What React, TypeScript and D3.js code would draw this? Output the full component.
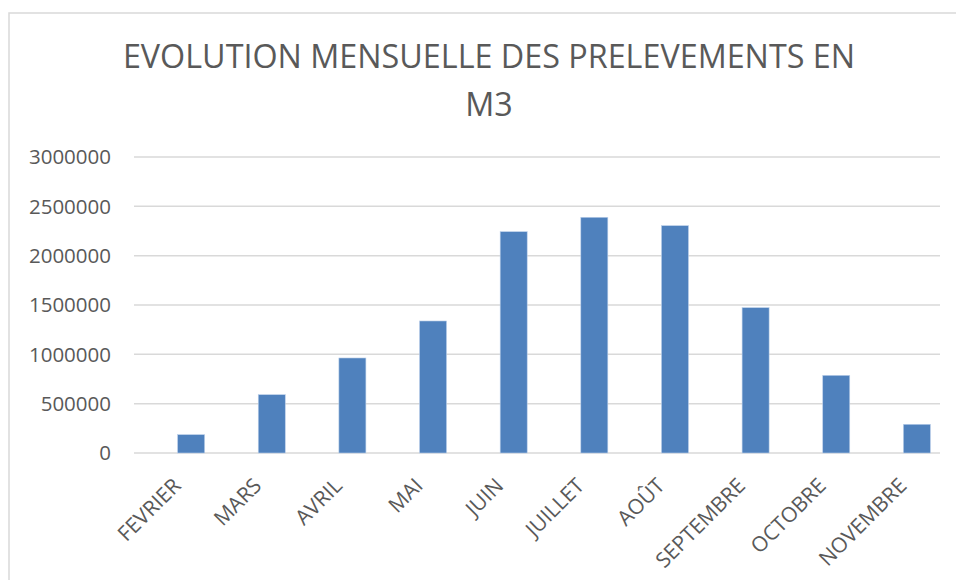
import React from "react";
import * as d3 from "d3";

const months = ["FEVRIER", "MARS", "AVRIL", "MAI", "JUIN", "JUILLET", "AOÛT", "SEPTEMBRE", "OCTOBRE", "NOVEMBRE"];
const volumes = [186000, 591000, 963000, 1338000, 2243000, 2389000, 2304000, 1473000, 787000, 291000];
const yTicks = [0, 500000, 1000000, 1500000, 2000000, 2500000, 3000000];
const titleLines = ["EVOLUTION MENSUELLE DES PRELEVEMENTS EN", "M3"];

const W = 956;
const H = 580;
const font = "'Open Sans', 'DejaVu Sans', sans-serif";
const textColor = "#595959";

const App = () => {
  const gridLeft = 134;
  const gridRight = 940;

  const x = d3
    .scaleBand()
    .domain(months)
    .range([151, 957])
    .paddingInner(0.665)
    .paddingOuter(0.33);

  const y = d3
    .scaleLinear()
    .domain([0, 3000000])
    .range([453, 157]);

  return (
    <svg width={W} height={H} style={{ position: "absolute", left: 0, top: 0, background: "#fff" }}>
      <rect x={9} y={13} width={W} height={H} fill="#fff" stroke="#d9d9d9" strokeWidth={1.5} />

      {titleLines.map((t, i) => (
        <text
          key={t}
          x={489}
          y={68 + i * 48}
          textAnchor="middle"
          fontFamily={font}
          fontSize={32.3}
          fill={textColor}
        >
          {t}
        </text>
      ))}

      {yTicks.map(t => (
        <g key={t}>
          <line x1={gridLeft} x2={gridRight} y1={y(t)} y2={y(t)} stroke="#d9d9d9" strokeWidth={1.5} />
          <text
            x={111}
            y={y(t)}
            dy="0.36em"
            textAnchor="end"
            fontFamily={font}
            fontSize={20.5}
            fill={textColor}
          >
            {t}
          </text>
        </g>
      ))}

      {months.map((m, i) => (
        <rect
          key={m}
          x={x(m)}
          y={y(volumes[i])}
          width={x.bandwidth()}
          height={y(0) - y(volumes[i])}
          fill="#4f81bd"
          stroke="#bcd0ea"
          strokeWidth={0.6}
        />
      ))}

      {months.map(m => {
        const cx = (x(m) as number) + x.bandwidth() / 2;
        return (
          <text
            key={m}
            transform={`translate(${cx - 9},${487}) rotate(-45)`}
            textAnchor="end"
            fontFamily={font}
            fontSize={21}
            fill={textColor}
          >
            {m}
          </text>
        );
      })}
    </svg>
  );
};

export default App;
